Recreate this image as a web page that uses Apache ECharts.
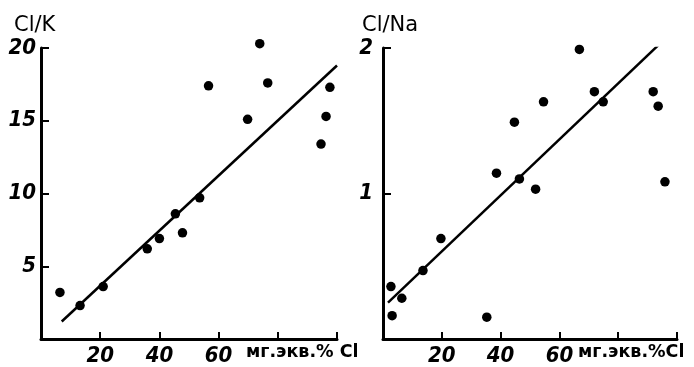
<!DOCTYPE html>
<html><head><meta charset="utf-8">
<script src="https://cdn.jsdelivr.net/npm/echarts@6/dist/echarts.min.js"></script>
<style>html,body{margin:0;padding:0;background:#fff}#c{width:694px;height:367px}</style>
</head><body><div id="c"></div>
<script>
// Left panel: Cl/K vs мг.экв.% Cl
const leftX = [6.4, 13.2, 21.0, 35.9, 40.0, 45.4, 47.8, 53.6, 56.6, 69.8, 73.9, 76.6, 94.6, 96.3, 97.6];
const leftY = [3.2, 2.3, 3.6, 6.2, 6.9, 8.6, 7.3, 9.7, 17.4, 15.1, 20.3, 17.6, 13.4, 15.3, 17.3];
const leftLineX = [7, 100];
const leftLineY = [1.2, 18.8];
// Right panel: Cl/Na vs мг.экв.% Cl
const rightX = [2.7, 3.1, 6.4, 13.6, 19.7, 35.3, 38.6, 44.7, 46.4, 51.9, 54.6, 66.8, 71.9, 74.9, 91.9, 93.6, 95.9];
const rightY = [0.36, 0.16, 0.28, 0.47, 0.69, 0.15, 1.14, 1.49, 1.10, 1.03, 1.63, 1.99, 1.70, 1.63, 1.70, 1.60, 1.08];
const rightLineX = [1.7, 94.2];
const rightLineY = [0.25, 2.03];
// Texts
const leftTitle = 'Cl/K';
const rightTitle = 'Cl/Na';
const leftXName = 'мг.экв.% Cl';
const rightXName = 'мг.экв.%Cl';
const xLabelsShown = [20, 40, 60];
const leftYLabels = [5, 10, 15, 20];
const rightYLabels = [1, 2];

const zip = (a, b) => a.map((v, i) => [v, b[i]]);
const tickFont = {fontFamily: "'DejaVu Sans Condensed','Liberation Sans Narrow',sans-serif", fontStyle: 'italic', fontWeight: 'bold', fontSize: 22, color: '#000'};
const axLine = {show: true, onZero: false, lineStyle: {color: '#000', width: 3}};
const axTick = {show: true, inside: true, length: 7, lineStyle: {color: '#000', width: 2}};

function xAxis(gi) {
  return {type: 'value', gridIndex: gi, min: 0, max: 100, interval: 20,
    axisLine: axLine, axisTick: axTick, splitLine: {show: false},
    axisLabel: Object.assign({margin: 6, formatter: v => xLabelsShown.includes(v) ? String(v) : ''}, tickFont)};
}
function yAxis(gi, max, interval, shown, margin) {
  return {type: 'value', gridIndex: gi, min: 0, max: max, interval: interval,
    axisLine: axLine, axisTick: Object.assign({}, axTick, {length: 8}), splitLine: {show: false},
    axisLabel: Object.assign({margin: margin, formatter: v => shown.includes(v) ? String(v) : ''}, tickFont)};
}
const nameStyle = {fontFamily: "'DejaVu Sans',sans-serif", fontWeight: 'bold', fontSize: 17.5, color: '#000'};
const titleStyle = {fontFamily: "'DejaVu Sans',sans-serif", fontWeight: 'normal', fontSize: 21, color: '#000'};

const chart = echarts.init(document.getElementById('c'));
chart.setOption({
  animation: false,
  backgroundColor: '#fff',
  title: [
    {text: leftTitle, left: 14, top: 15, padding: 0, textStyle: titleStyle},
    {text: rightTitle, left: 362, top: 15, padding: 0, textStyle: titleStyle},
    {text: leftXName, left: 246, top: 343, padding: 0, textStyle: nameStyle},
    {text: rightXName, left: 578, top: 343, padding: 0, textStyle: nameStyle}
  ],
  grid: [
    {left: 41, top: 48, width: 296, height: 292},
    {left: 383, top: 48, width: 294, height: 291}
  ],
  xAxis: [xAxis(0), xAxis(1)],
  yAxis: [yAxis(0, 20, 5, leftYLabels, 5), yAxis(1, 2, 1, rightYLabels, 10)],
  series: [
    {type: 'scatter', xAxisIndex: 0, yAxisIndex: 0, clip: false, data: zip(leftX, leftY), symbolSize: 9.5, itemStyle: {color: '#000', opacity: 1}},
    {type: 'line', xAxisIndex: 0, yAxisIndex: 0, data: zip(leftLineX, leftLineY), showSymbol: false, lineStyle: {color: '#000', width: 2.5}},
    {type: 'scatter', xAxisIndex: 1, yAxisIndex: 1, clip: false, data: zip(rightX, rightY), symbolSize: 9.5, itemStyle: {color: '#000', opacity: 1}},
    {type: 'line', xAxisIndex: 1, yAxisIndex: 1, data: zip(rightLineX, rightLineY), showSymbol: false, lineStyle: {color: '#000', width: 2.5}}
  ]
});
</script></body></html>
